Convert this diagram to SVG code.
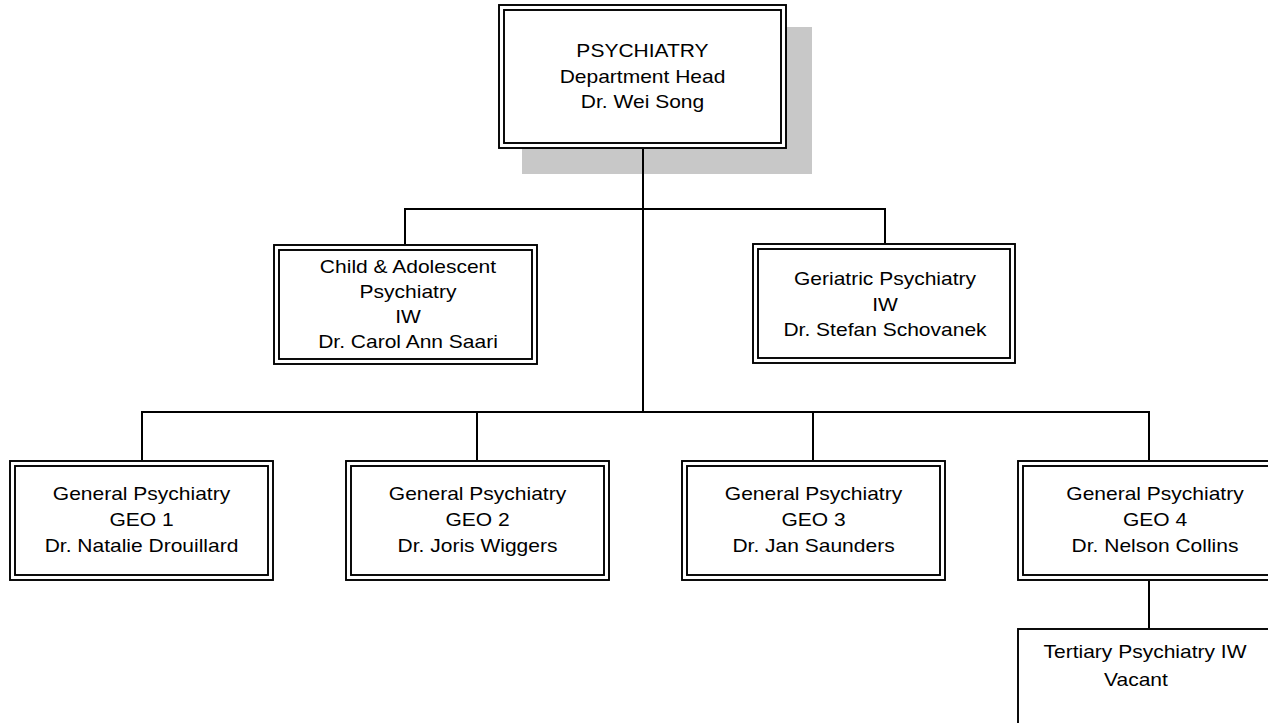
<svg xmlns="http://www.w3.org/2000/svg" width="1268" height="723" viewBox="0 0 1268 723">
<style>
.o{fill:#fff;stroke:#000;stroke-width:1.9}
.i{fill:none;stroke:#000;stroke-width:1.9}
.c{fill:none;stroke:#000;stroke-width:2}
.t{font-family:"Liberation Sans",Arial,sans-serif;font-size:18.6px;fill:#000;text-anchor:middle}
</style>
<rect x="0" y="0" width="1268" height="723" fill="#fff"/>
<g id="node-head">
<rect x="522" y="27" width="290" height="147" fill="#c8c8c8"/>
<rect class="o" x="499" y="5" width="287" height="143"/>
<rect class="i" x="504" y="10" width="277" height="133"/>
<text class="t" transform="translate(642.5,0) scale(1.13,1)"><tspan x="0" y="57.5">PSYCHIATRY</tspan><tspan x="0" y="82.7">Department Head</tspan><tspan x="0" y="107.7">Dr. Wei Song</tspan></text>
</g>
<g id="connectors">
<path class="c" d="M643 149V412M405 209H885M405 208V244M885 208V243M142 412H1149M142 411V460M477 411V460M813 411V460M1149 411V460M1149 581V628"/>
</g>
<g id="node-child">
<rect class="o" x="274" y="245" width="263" height="119"/>
<rect class="i" x="279" y="250" width="253" height="109"/>
<text class="t" transform="translate(408,0) scale(1.13,1)"><tspan x="0" y="272.7">Child &amp; Adolescent</tspan><tspan x="0" y="297.8">Psychiatry</tspan><tspan x="0" y="323.2">IW</tspan><tspan x="0" y="348.3">Dr. Carol Ann Saari</tspan></text>
</g>
<g id="node-geriatric">
<rect class="o" x="753" y="244" width="262" height="119"/>
<rect class="i" x="758" y="249" width="252" height="109"/>
<text class="t" transform="translate(885,0) scale(1.13,1)"><tspan x="0" y="285.3">Geriatric Psychiatry</tspan><tspan x="0" y="311">IW</tspan><tspan x="0" y="336.5">Dr. Stefan Schovanek</tspan></text>
</g>
<g id="node-geo1">
<rect class="o" x="10" y="461" width="263" height="119"/>
<rect class="i" x="15" y="466" width="253" height="109"/>
<text class="t" transform="translate(141.5,0) scale(1.13,1)"><tspan x="0" y="500.5">General Psychiatry</tspan><tspan x="0" y="526.4">GEO 1</tspan><tspan x="0" y="551.6">Dr. Natalie Drouillard</tspan></text>
</g>
<g id="node-geo2">
<rect class="o" x="346" y="461" width="263" height="119"/>
<rect class="i" x="351" y="466" width="253" height="109"/>
<text class="t" transform="translate(477.5,0) scale(1.13,1)"><tspan x="0" y="500.5">General Psychiatry</tspan><tspan x="0" y="526.4">GEO 2</tspan><tspan x="0" y="551.6">Dr. Joris Wiggers</tspan></text>
</g>
<g id="node-geo3">
<rect class="o" x="682" y="461" width="263" height="119"/>
<rect class="i" x="687" y="466" width="253" height="109"/>
<text class="t" transform="translate(813.5,0) scale(1.13,1)"><tspan x="0" y="500.5">General Psychiatry</tspan><tspan x="0" y="526.4">GEO 3</tspan><tspan x="0" y="551.6">Dr. Jan Saunders</tspan></text>
</g>
<g id="node-geo4">
<rect class="o" x="1018" y="461" width="263" height="119"/>
<rect class="i" x="1023" y="466" width="253" height="109"/>
<text class="t" transform="translate(1155,0) scale(1.13,1)"><tspan x="0" y="500.5">General Psychiatry</tspan><tspan x="0" y="526.4">GEO 4</tspan><tspan x="0" y="551.6">Dr. Nelson Collins</tspan></text>
</g>
<g id="node-tertiary">
<rect class="o" x="1018" y="629" width="263" height="119"/>
<text class="t" transform="translate(1145,0) scale(1.13,1)"><tspan x="0" y="658.3">Tertiary Psychiatry IW</tspan><tspan x="-8" y="686">Vacant</tspan></text>
</g>
</svg>
